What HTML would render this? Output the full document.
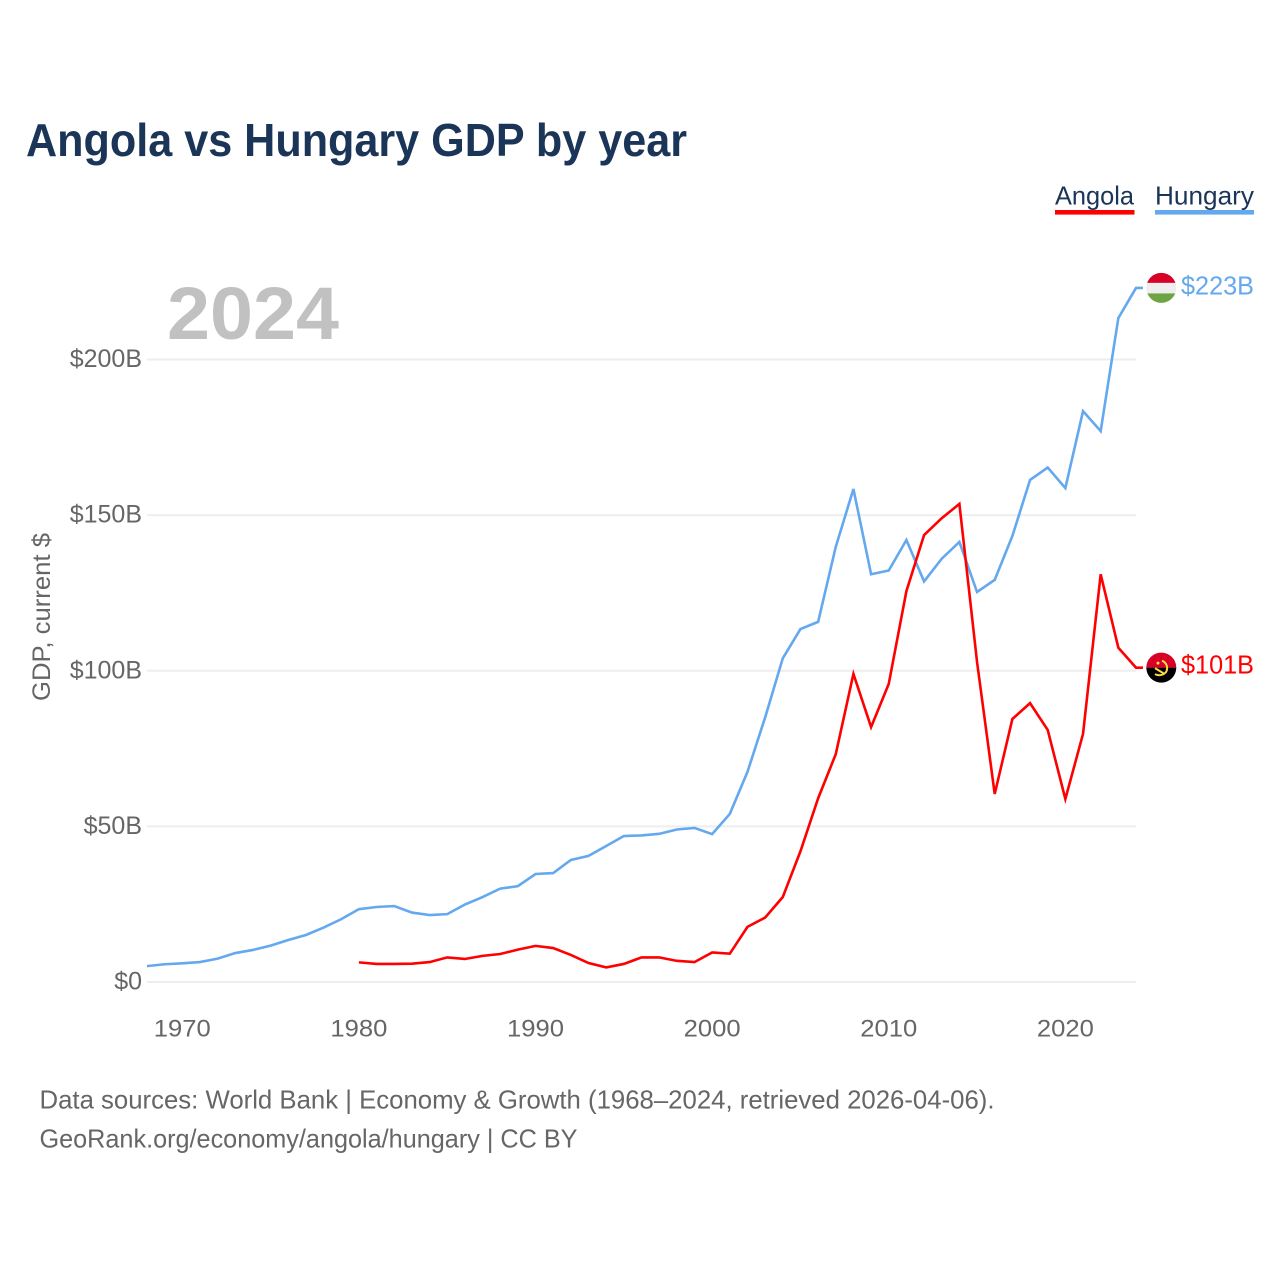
<!DOCTYPE html>
<html lang="en">
<head>
<meta charset="utf-8">
<title>Angola vs Hungary GDP by year</title>
<style>
html,body{margin:0;padding:0;background:#fff;width:1280px;height:1280px;overflow:hidden}
svg{display:block}
text{font-family:"Liberation Sans",sans-serif}
</style>
</head>
<body>
<svg id="chart" xmlns="http://www.w3.org/2000/svg" width="1280" height="1280" viewBox="0 0 1280 1280">
  <rect x="0" y="0" width="1280" height="1280" fill="#ffffff"/>
  <text x="26" y="156" font-size="46" font-weight="700" fill="#1a3557" textLength="661" lengthAdjust="spacingAndGlyphs">Angola vs Hungary GDP by year</text>

  <g>
    <g>
      <text x="1055" y="204.5" font-size="26" fill="#1a3557" textLength="79" lengthAdjust="spacingAndGlyphs">Angola</text>
      <rect x="1055" y="210" width="79.5" height="4.6" fill="#ff0000"/>
    </g>
    <g>
      <text x="1155" y="204.5" font-size="26" fill="#1a3557" textLength="99" lengthAdjust="spacingAndGlyphs">Hungary</text>
      <rect x="1155" y="210" width="99" height="4.6" fill="#64a8ee"/>
    </g>
  </g>

  <text x="167" y="339" font-size="74" font-weight="700" fill="#c1c1c1" textLength="172" lengthAdjust="spacingAndGlyphs">2024</text>
  <text transform="translate(50,701) rotate(-90)" font-size="25" fill="#666666" textLength="168" lengthAdjust="spacingAndGlyphs">GDP, current $</text>

  <g id="grid"></g>
  <g id="yticks"></g>
  <g id="xticks"></g>
  <g id="series"></g>

  <defs>
    <clipPath id="clip-hu"><circle id="hu-clip-circle" cx="1161.3" cy="288" r="15"/></clipPath>
    <clipPath id="clip-ao"><circle id="ao-clip-circle" cx="1161.3" cy="667" r="15"/></clipPath>
  </defs>

  <g id="flag-hu">
    <g clip-path="url(#clip-hu)">
      <rect id="hu-r" x="1145" y="272" width="32" height="11" fill="#d80027"/>
      <rect id="hu-w" x="1145" y="283" width="32" height="11" fill="#eeeeee"/>
      <rect id="hu-g" x="1145" y="293.5" width="32" height="11" fill="#6da544"/>
    </g>
  </g>
  <g id="flag-ao">
    <g clip-path="url(#clip-ao)">
      <rect id="ao-r" x="1145" y="651" width="32" height="16" fill="#d80027"/>
      <rect id="ao-b" x="1145" y="667" width="32" height="16" fill="#000000"/>
    </g>
    <path id="ao-emblem" d="M1162 660a8 8 0 0 1 4 11.5 9 9 0 0 1-11 2M1155 667.5l9 5.5" fill="none" stroke="#ffda44" stroke-width="2"/>
    <circle id="ao-star" cx="1158" cy="662.5" r="1.5" fill="#ffda44"/>
  </g>

  <g>
    <text x="39.5" y="1108.5" font-size="26" fill="#666666" textLength="955" lengthAdjust="spacingAndGlyphs">Data sources: World Bank | Economy &amp; Growth (1968–2024, retrieved 2026-04-06).</text>
    <text x="39.5" y="1147.5" font-size="26" fill="#666666" textLength="538" lengthAdjust="spacingAndGlyphs">GeoRank.org/economy/angola/hungary | CC BY</text>
  </g>
</svg>

<script>
const hungaryStartYear = 1968;
const hungaryValues = [5.1,5.7,6.0,6.4,7.5,9.3,10.3,11.7,13.5,15.1,17.5,20.2,23.4,24.1,24.4,22.3,21.5,21.8,24.9,27.3,30.0,30.8,34.7,35.0,39.2,40.5,43.7,46.9,47.1,47.6,49.0,49.5,47.5,54.0,67.5,85.0,104.0,113.4,115.7,139.8,158.4,131.0,132.2,142.0,128.7,136.0,141.4,125.3,129.2,143.3,161.3,165.3,158.7,183.4,177.0,213.3,223.0];
const angolaStartYear = 1980;
const angolaValues = [6.3,5.8,5.8,5.9,6.4,7.9,7.4,8.4,9.0,10.4,11.6,10.9,8.7,6.1,4.7,5.8,7.9,7.9,6.8,6.4,9.5,9.1,17.7,20.7,27.3,42.0,59.0,73.2,99.0,81.9,95.8,125.6,143.6,149.0,153.6,102.8,60.4,84.5,89.6,81.0,58.8,79.7,131.0,107.4,101.0];
const yTickValues = [0,50,100,150,200];
const yTickLabels = ["$0","$50B","$100B","$150B","$200B"];
const xTickValues = [1970,1980,1990,2000,2010,2020];
const xTickLabels = ["1970","1980","1990","2000","2010","2020"];

const NS = "http://www.w3.org/2000/svg";
const xDomain = [1968, 2024], xRange = [147, 1136];
const yDomain = [0, 200], yRange = [982, 359.5];
function xScale(year) {
  return xRange[0] + (year - xDomain[0]) / (xDomain[1] - xDomain[0]) * (xRange[1] - xRange[0]);
}
function yScale(v) {
  return yRange[0] + (v - yDomain[0]) / (yDomain[1] - yDomain[0]) * (yRange[1] - yRange[0]);
}
function make(tag, attrs, parent, content) {
  const el = document.createElementNS(NS, tag);
  for (const k in attrs) el.setAttribute(k, attrs[k]);
  if (content !== undefined) el.textContent = content;
  parent.appendChild(el);
  return el;
}
const svg = document.getElementById("chart");
const gridGroup = document.getElementById("grid");
const yGroup = document.getElementById("yticks");
const xGroup = document.getElementById("xticks");
const seriesGroup = document.getElementById("series");

yTickValues.forEach(function (v, i) {
  const line = make("line", {x1: xRange[0], x2: xRange[1], y1: yScale(v), y2: yScale(v), stroke: "#eeeeee", "stroke-width": 2}, gridGroup);
  
  
  const label = make("text", {x: 142, y: yScale(v) + 7.5, "text-anchor": "end", "font-size": 25, fill: "#666666"}, yGroup, yTickLabels[i]);
  
  
});

xTickValues.forEach(function (v, i) {
  const label = make("text", {x: xScale(v), y: 1036.5, "text-anchor": "middle", "font-size": 24, fill: "#666666", textLength: 57, lengthAdjust: "spacingAndGlyphs"}, xGroup, xTickLabels[i]);
  
  
});

function seriesPath(startYear, values) {
  let d = "";
  values.forEach(function (v, i) {
    d += (i ? "L" : "M") + xScale(startYear + i).toFixed(2) + " " + yScale(v).toFixed(2);
  });
  d += "H" + (xRange[1] + 7);
  return d;
}
const hungaryLine = make("path", {d: seriesPath(hungaryStartYear, hungaryValues), fill: "none", stroke: "#64a8ee", "stroke-width": 2.6, "stroke-linejoin": "miter"}, seriesGroup);


const angolaLine = make("path", {d: seriesPath(angolaStartYear, angolaValues), fill: "none", stroke: "#ff0000", "stroke-width": 2.6, "stroke-linejoin": "miter"}, seriesGroup);



const huLast = hungaryValues[hungaryValues.length - 1];
const aoLast = angolaValues[angolaValues.length - 1];
const huLabel = make("text", {x: 1181, y: yScale(huLast) + 6.5, "font-size": 26, fill: "#64a8ee", textLength: 73, lengthAdjust: "spacingAndGlyphs"}, svg, "$" + Math.round(huLast) + "B");


const aoLabel = make("text", {x: 1181, y: yScale(aoLast) + 6, "font-size": 26, fill: "#ff0000", textLength: 73, lengthAdjust: "spacingAndGlyphs"}, svg, "$" + Math.round(aoLast) + "B");



const huCy = yScale(huLast), aoCy = yScale(aoLast);
document.getElementById("hu-clip-circle").setAttribute("cy", huCy);
document.getElementById("ao-clip-circle").setAttribute("cy", aoCy);
document.getElementById("hu-r").setAttribute("y", huCy - 16);
document.getElementById("hu-w").setAttribute("y", huCy - 5);
document.getElementById("hu-g").setAttribute("y", huCy + 5.5);
document.getElementById("ao-r").setAttribute("y", aoCy - 16);
document.getElementById("ao-b").setAttribute("y", aoCy);
document.getElementById("ao-emblem").setAttribute("transform", "translate(0," + (aoCy - 667) + ")");
document.getElementById("ao-star").setAttribute("cy", aoCy - 4.5);
</script>
</body>
</html>
